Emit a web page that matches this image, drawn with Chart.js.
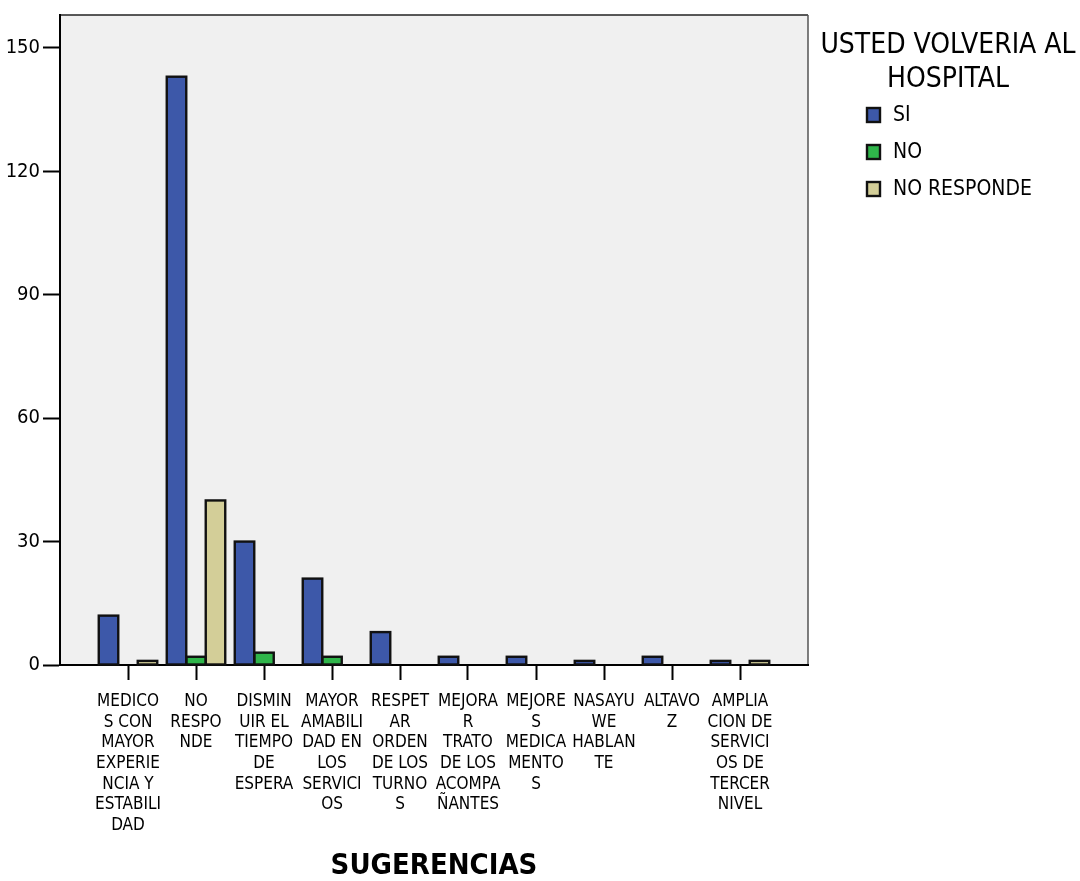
<!DOCTYPE html>
<html>
<head>
<meta charset="utf-8">
<script src="https://cdn.jsdelivr.net/npm/chart.js@4"></script>
<style>
  html, body { margin: 0; padding: 0; background: #ffffff; }
  #wrap { width: 1080px; height: 881px; position: relative; }
</style>
</head>
<body>
<div id="wrap"><canvas id="chart"></canvas></div>
<script>
// Suggestions (SUGERENCIAS), each label split into its printed lines
const categories = [
  ['MEDICO', 'S CON', 'MAYOR', 'EXPERIE', 'NCIA Y', 'ESTABILI', 'DAD'],
  ['NO', 'RESPO', 'NDE'],
  ['DISMIN', 'UIR EL', 'TIEMPO', 'DE', 'ESPERA'],
  ['MAYOR', 'AMABILI', 'DAD EN', 'LOS', 'SERVICI', 'OS'],
  ['RESPET', 'AR', 'ORDEN', 'DE LOS', 'TURNO', 'S'],
  ['MEJORA', 'R', 'TRATO', 'DE LOS', 'ACOMPA', 'ÑANTES'],
  ['MEJORE', 'S', 'MEDICA', 'MENTO', 'S'],
  ['NASAYU', 'WE', 'HABLAN', 'TE'],
  ['ALTAVO', 'Z'],
  ['AMPLIA', 'CION DE', 'SERVICI', 'OS DE', 'TERCER', 'NIVEL']
];

// Counts per answer to "USTED VOLVERIA AL HOSPITAL"
const seriesSi         = [12, 143, 30, 21, 8, 2, 2, 1, 2, 1];
const seriesNo         = [0, 2, 3, 2, 0, 0, 0, 0, 0, 0];
const seriesNoResponde = [1, 40, 0, 0, 0, 0, 0, 0, 0, 1];

const seriesNames  = ['SI', 'NO', 'NO RESPONDE'];
const seriesColors = ['#3d58a9', '#2fb54a', '#d3ce98'];
const legendTitle  = ['USTED VOLVERIA AL', 'HOSPITAL'];
const yTicks       = [0, 30, 60, 90, 120, 150];
const axisTitle    = 'SUGERENCIAS';

const NARROW = '"Liberation Sans Narrow", "Arial Narrow", "DejaVu Sans Condensed", sans-serif';

// an empty slot on each side leaves a full category of room at the plot edges
const pad = arr => [null, ...arr, null];
const labels = ['', ...categories, ''];

// grey plot background with a thin frame
const plotBackground = {
  id: 'plotBackground',
  beforeDraw(chart) {
    const { ctx, chartArea: a } = chart;
    ctx.save();
    ctx.fillStyle = '#f0f0f0';
    ctx.fillRect(a.left, a.top, a.right - a.left, a.bottom - a.top);
    ctx.strokeStyle = '#222';
    ctx.lineWidth = 1.5;
    ctx.beginPath();
    ctx.moveTo(a.left, a.top);
    ctx.lineTo(a.right, a.top);
    ctx.stroke();
    ctx.strokeStyle = '#555';
    ctx.beginPath();
    ctx.moveTo(a.right, a.top);
    ctx.lineTo(a.right, a.bottom);
    ctx.stroke();
    ctx.restore();
  }
};

// outline each bar with a stroke centred on its edge
const barOutline = {
  id: 'barOutline',
  afterDatasetsDraw(chart) {
    const { ctx } = chart;
    ctx.save();
    ctx.strokeStyle = '#111';
    ctx.lineWidth = 2.4;
    chart.data.datasets.forEach((ds, di) => {
      const meta = chart.getDatasetMeta(di);
      meta.data.forEach((el, i) => {
        if (!ds.data[i]) return;
        const { x, y, base, width } = el.getProps(['x', 'y', 'base', 'width'], true);
        ctx.strokeRect(x - width / 2, y, width, base - y);
      });
    });
    ctx.restore();
  }
};

// legend with a two-line heading, placed to the right of the plot
const sideLegend = {
  id: 'sideLegend',
  afterDraw(chart) {
    const { ctx, chartArea: a } = chart;
    ctx.save();
    ctx.fillStyle = '#000';
    ctx.textBaseline = 'middle';
    ctx.textAlign = 'center';
    ctx.font = '28px ' + NARROW;
    const cx = 948;
    legendTitle.forEach((t, i) => ctx.fillText(t, cx, a.top + 31 + i * 34));
    ctx.textAlign = 'left';
    ctx.font = '21px ' + NARROW;
    chart.data.datasets.forEach((ds, i) => {
      const y = a.top + 100 + i * 37;
      ctx.fillStyle = ds.backgroundColor;
      ctx.fillRect(867, y - 7, 13, 14);
      ctx.strokeStyle = '#111';
      ctx.lineWidth = 2.4;
      ctx.strokeRect(867, y - 7, 13, 14);
      ctx.fillStyle = '#000';
      ctx.fillText(ds.label, 893, y + 1);
    });
    ctx.restore();
  }
};

const seriesData = [seriesSi, seriesNo, seriesNoResponde];

new Chart(document.getElementById('chart'), {
  type: 'bar',
  data: {
    labels: labels,
    datasets: seriesData.map((vals, i) => ({
      label: seriesNames[i],
      data: pad(vals),
      backgroundColor: seriesColors[i],
      borderWidth: 0,
      categoryPercentage: 0.86,
      barPercentage: 1.0
    }))
  },
  options: {
    responsive: true,
    maintainAspectRatio: false,
    animation: false,
    layout: { padding: { top: 12, right: 272, bottom: 0, left: 0 } },
    plugins: {
      legend: { display: false },
      tooltip: { enabled: false },
      title: { display: false }
    },
    scales: {
      x: {
        type: 'category',
        offset: false,
        grid: {
          display: true,
          drawOnChartArea: false,
          drawTicks: true,
          tickLength: 15,
          tickWidth: 2,
          offset: false,
          color: ctx => (ctx.index === 0 || ctx.index === labels.length - 1) ? 'rgba(0,0,0,0)' : '#000'
        },
        border: { display: true, color: '#000', width: 2 },
        ticks: {
          autoSkip: false,
          maxRotation: 0,
          minRotation: 0,
          padding: 11,
          color: '#000',
          font: { family: NARROW, size: 17, lineHeight: 1.22 }
        },
        title: {
          display: true,
          text: axisTitle,
          color: '#000',
          font: { family: NARROW, size: 29, weight: 'bold', lineHeight: 1 },
          padding: { top: 0, bottom: 0 }
        },
        afterFit(scale) { scale.height = 216; }
      },
      y: {
        min: 0,
        max: 158,
        afterBuildTicks(scale) { scale.ticks = yTicks.map(v => ({ value: v })); },
        grid: {
          display: true,
          drawOnChartArea: false,
          drawTicks: true,
          tickLength: 17,
          tickWidth: 2,
          color: '#000'
        },
        border: { display: true, color: '#000', width: 2 },
        ticks: {
          padding: 3,
          color: '#000',
          font: { family: NARROW, size: 20 }
        },
        afterFit(scale) { scale.width = 60; }
      }
    }
  },
  plugins: [plotBackground, barOutline, sideLegend]
});
</script>
</body>
</html>
